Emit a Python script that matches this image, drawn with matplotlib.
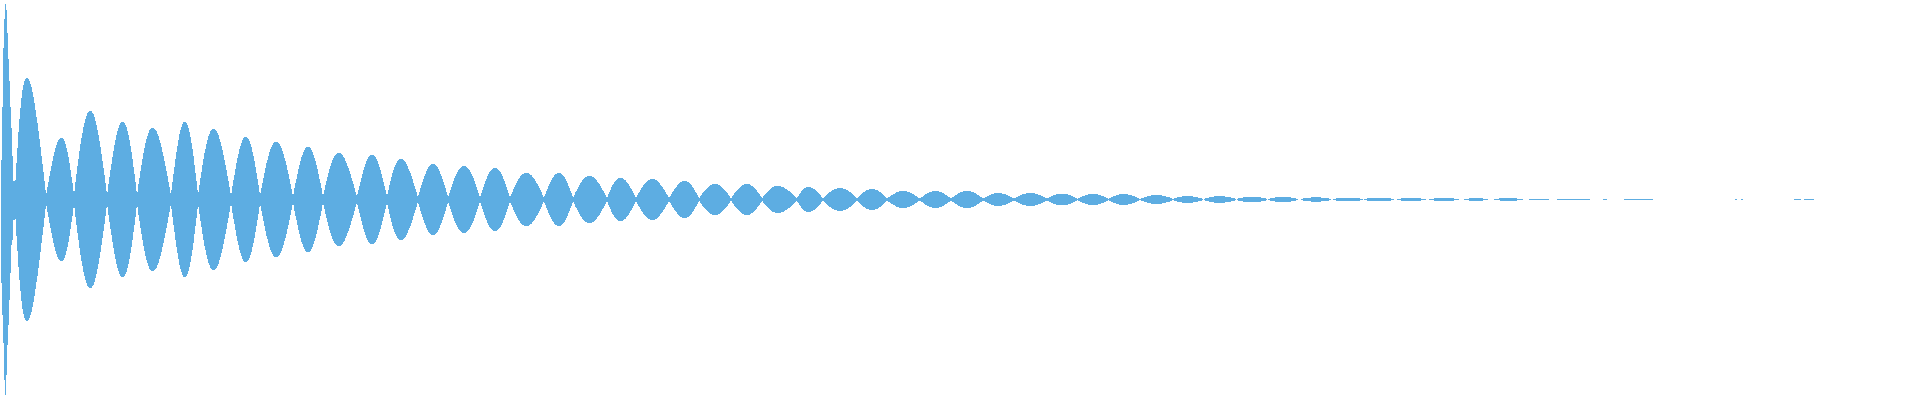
#!/usr/bin/env python3
# -*- coding: utf-8 -*-
"""
Waveform strip - decaying beat pattern, drawn as a mirrored envelope
"""
# %% imports
import matplotlib.pyplot as plt
from matplotlib.path import Path
from matplotlib.patches import PathPatch

# %% data (x in samples, amplitude in display units)
# initial transient, one value per sample column
spikeX = [0, 1, 2, 3, 4, 5, 6, 7, 8, 9, 10, 11, 12, 13, 14]
spikeTop = [6, 40, 93, 152, 181, 196, 190, 167, 141, 119, 93, 72, 44, 19, 19]
spikeBot = [38, 83, 115, 143, 180, 195, 175, 145, 125, 100, 73, 45, 40, 20, 20]

# beat lobes: start node, end node, peak position, peak amplitude
lobeStart = [15, 46, 74, 107, 137, 171, 198, 231, 260, 293, 323, 357, 387,
             418, 448, 480, 510, 544, 573, 607, 636, 669, 699, 731, 762, 797,
             823, 857, 887, 920, 951, 983, 1014, 1047, 1077, 1109, 1140, 1173,
             1204, 1237, 1268, 1301, 1333, 1364, 1397, 1429, 1464, 1494, 1529,
             1557, 1603, 1624, 1735, 1741, 1794, 1804]
lobeEnd = [46, 74, 107, 137, 171, 198, 231, 260, 293, 323, 357, 387, 418,
           448, 480, 510, 544, 573, 607, 636, 669, 699, 731, 762, 797, 823,
           857, 887, 920, 951, 983, 1014, 1047, 1077, 1109, 1140, 1173, 1203,
           1236, 1267, 1298, 1331, 1363, 1394, 1426, 1459, 1488, 1523, 1549,
           1590, 1607, 1653, 1737, 1743, 1801, 1814]
lobePeak = [25, 62, 90, 123, 152, 185, 213, 246, 276, 308, 338, 372, 400,
            433, 464, 495, 526, 559, 589, 620, 652, 685, 715, 747, 777, 808,
            840, 872, 903, 935, 967, 998, 1030, 1062, 1093, 1123, 1157, 1187,
            1219, 1252, 1283, 1316, 1348, 1379, 1411, 1444, 1476, 1508, 1539,
            1573, 1605, 1638, 1736, 1742, 1797, 1809]
lobeAmp = [121, 61, 88, 77, 71, 77, 70, 62, 57, 52, 46, 44, 40,
           35, 33, 31, 26, 26, 23, 21, 20, 18, 15, 15, 13, 12,
           11, 10, 8, 8, 8, 6, 6, 5.5, 5, 5, 4, 3,
           3, 2.5, 2.3, 1.7, 1.3, 1.3, 1.0, 1.0, 0.8, 0.8, 0.6,
           0.6, 0.6, 0.6, 0.6, 0.6, 0.6, 0.6]

waveCol = "#5DADE2"

# %% plot
fig = plt.figure(figsize=(19.2, 4.0), dpi=100)
ax = fig.add_axes([0, 0, 1, 1])
ax.set_xlim(0, 1920)
ax.set_ylim(-200.5, 199.5)
ax.axis("off")

# transient as per-column bars
ax.fill_between([x + 0.5 for x in spikeX], spikeTop, [-v for v in spikeBot],
                step="mid", color=waveCol, linewidth=0, antialiased=False)

# lobes as mirrored cubic curves (half-sine like)
verts = []
codes = []
k = 0.8488  # control point spread for a half-sine look
for x0, x1, xp, a in zip(lobeStart, lobeEnd, lobePeak, lobeAmp):
    c1 = x0 + k * (xp - x0)
    c2 = x1 - k * (x1 - xp)
    h = a * 4.0 / 3.0
    verts += [(x0, 0), (c1, h), (c2, h), (x1, 0),
              (c2, -h), (c1, -h), (x0, 0), (x0, 0)]
    codes += [Path.MOVETO, Path.CURVE4, Path.CURVE4, Path.CURVE4,
              Path.CURVE4, Path.CURVE4, Path.CURVE4, Path.CLOSEPOLY]
ax.add_patch(PathPatch(Path(verts, codes), facecolor=waveCol,
                       edgecolor="none", antialiased=False))

plt.savefig("out.png", dpi=100)
